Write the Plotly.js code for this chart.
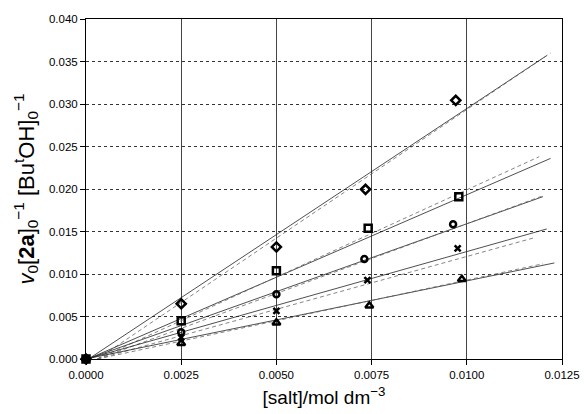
<!DOCTYPE html>
<html>
<head>
<meta charset="utf-8">
<script src="https://cdn.plot.ly/plotly-3.0.1.min.js"></script>
<style>html,body{margin:0;padding:0;background:#fff}#chart{width:584px;height:414px}</style>
</head>
<body>
<div id="chart"></div>
<script>
// Measured data points (x = [salt], y = v0[2a]0^-1[ButOH]0^-1)
var diamondX = [0, 0.0025, 0.0050, 0.00734, 0.00971];
var diamondY = [0, 0.00650, 0.01318, 0.01996, 0.03043];
var squareX  = [0, 0.0025, 0.0050, 0.00741, 0.00979];
var squareY  = [0, 0.00450, 0.01039, 0.01538, 0.01909];
var circleX  = [0, 0.0025, 0.0050, 0.00731, 0.00964];
var circleY  = [0, 0.00314, 0.00761, 0.01176, 0.01584];
var crossX   = [0, 0.0025, 0.0050, 0.00739, 0.00976];
var crossY   = [0, 0.00255, 0.00565, 0.00929, 0.01302];
var triX     = [0, 0.0025, 0.0050, 0.00744, 0.00987];
var triY     = [0, 0.00185, 0.00427, 0.00627, 0.00938];

// Fitted lines: [start, end] for solid and dashed fits
var diamondFitX = [0.0001, 0.0121], diamondFitY = [0.0001, 0.0357];
var diamondAltX = [0.0003, 0.0122], diamondAltY = [0.0000, 0.0360];
var squareFitX  = [0.0001, 0.0122], squareFitY  = [0.0001, 0.0236];
var squareAltX  = [0.0003, 0.0119], squareAltY  = [0.0000, 0.0238];
var circleFitX  = [0.0001, 0.0120], circleFitY  = [0.0001, 0.0191];
var circleAltX  = [0.0003, 0.0120], circleAltY  = [0.0000, 0.0192];
var crossFitX   = [0.0001, 0.0121], crossFitY   = [0.0001, 0.0153];
var crossAltX   = [0.0003, 0.0118], crossAltY   = [0.0000, 0.0143];
var triFitX     = [0.0001, 0.0123], triFitY     = [0.0001, 0.0113];
var triAltX     = [0.0003, 0.0120], triAltY     = [0.0000, 0.0112];

var xTickVals = [0, 0.0025, 0.0050, 0.0075, 0.0100, 0.0125];
var xTickText = ['0.0000', '0.0025', '0.0050', '0.0075', '0.0100', '0.0125'];
var yTickVals = [0, 0.005, 0.010, 0.015, 0.020, 0.025, 0.030, 0.035, 0.040];
var yTickText = ['0.000', '0.005', '0.010', '0.015', '0.020', '0.025', '0.030', '0.035', '0.040'];

function fitLine(x, y, dashed) {
  return {x: x, y: y, type: 'scatter', mode: 'lines', showlegend: false, hoverinfo: 'skip',
    line: {color: dashed ? '#666' : '#222', width: 0.8, dash: dashed ? '4px,3px' : 'solid'}};
}
function pts(x, y, sym, size, lw) {
  return {x: x, y: y, type: 'scatter', mode: 'markers', showlegend: false, cliponaxis: false,
    marker: {symbol: sym, size: size, color: '#000', line: {color: '#000', width: lw}}};
}

var traces = [
  fitLine(diamondFitX, diamondFitY, false), fitLine(diamondAltX, diamondAltY, true),
  fitLine(squareFitX, squareFitY, false), fitLine(squareAltX, squareAltY, true),
  fitLine(circleFitX, circleFitY, false), fitLine(circleAltX, circleAltY, true),
  fitLine(crossFitX, crossFitY, false), fitLine(crossAltX, crossAltY, true),
  fitLine(triFitX, triFitY, false), fitLine(triAltX, triAltY, true),
  pts(diamondX, diamondY, 'diamond-open', 7, 2.5),
  pts(squareX, squareY, 'square-open', 7, 2.5),
  pts(circleX, circleY, 'circle-open', 6, 2.5),
  pts(crossX, crossY, 'x-thin-open', 6, 2.5),
  pts(triX, triY, 'triangle-up-open', 7, 2.5)
];

var layout = {
  width: 584, height: 414,
  margin: {l: 86, r: 22, t: 19, b: 55},
  paper_bgcolor: '#fff', plot_bgcolor: '#fff',
  font: {family: 'Liberation Sans, Arial, sans-serif', color: '#000', size: 12},
  xaxis: {
    range: [0, 0.0125], tickvals: xTickVals, ticktext: xTickText,
    showgrid: true, gridcolor: '#444', gridwidth: 1,
    showline: true, linecolor: '#000', linewidth: 1, mirror: true,
    ticks: 'outside', ticklen: 5, tickcolor: '#000', zeroline: false,
    tickfont: {size: 11.5},
    title: {text: '[salt]/mol dm<sup>\u22123</sup>', font: {size: 19}, standoff: 10}
  },
  yaxis: {
    range: [0, 0.040], tickvals: yTickVals, ticktext: yTickText,
    showgrid: true, gridcolor: '#333', gridwidth: 1, griddash: 'dot',
    showline: true, linecolor: '#000', linewidth: 1, mirror: true,
    ticks: 'outside', ticklen: 5, tickcolor: '#000', zeroline: false,
    tickfont: {size: 11.5},
    title: {text: '<i>v</i><sub>0</sub>[<b>2a</b>]<sub>0</sub><sup>\u22121</sup> [Bu<sup>t</sup>OH]<sub>0</sub><sup>\u22121</sup>',
      font: {size: 22}, standoff: 8}
  }
};

Plotly.newPlot('chart', traces, layout, {staticPlot: true, displayModeBar: false});
</script>
</body>
</html>
